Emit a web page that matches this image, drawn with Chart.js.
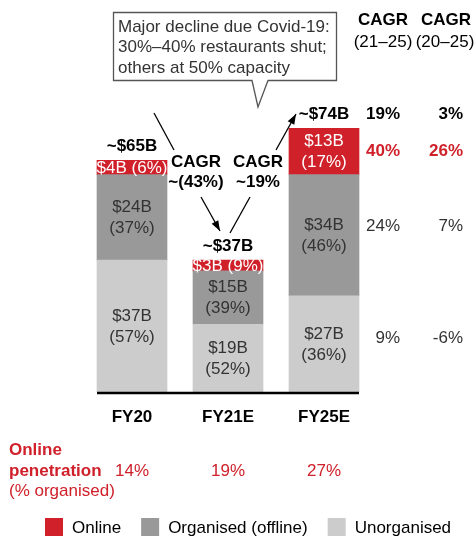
<!DOCTYPE html>
<html>
<head>
<meta charset="utf-8">
<script src="https://cdn.jsdelivr.net/npm/chart.js@4"></script>
<style>
  body { margin: 0; background: #fff; }
  canvas { display: block; }
</style>
</head>
<body>
<canvas id="chart" width="475" height="536"></canvas>
<script>
const years = ["FY20", "FY21E", "FY25E"];
const unorganised = [37, 19, 27];
const organised = [24, 15, 34];
const online = [4, 3, 13];
const pctUnorganised = [57, 52, 36];
const pctOrganised = [37, 39, 46];
const pctOnline = [6, 9, 17];
const totals = ["~$65B", "~$37B", "~$74B"];
const penetration = ["14%", "19%", "27%"];
const cagr2125 = ["19%", "40%", "24%", "9%"];
const cagr2025 = ["3%", "26%", "7%", "-6%"];
const midCagr = ["~(43%)", "~19%"];
const note = ["Major decline due Covid-19:", "30%\u201340% restaurants shut;", "others at 50% capacity"];

const RED = "#d0202a", GREY = "#999999", LIGHT = "#cccccc", DARK = "#333333";
const FONT = '"Liberation Sans", Arial, sans-serif';
const SIZE = "17px ";

function arrow(ctx, x1, y1, x2, y2, head) {
    ctx.beginPath();
    ctx.moveTo(x1, y1);
    ctx.lineTo(x2, y2);
    ctx.stroke();
    if (head) {
        const a = Math.atan2(y2 - y1, x2 - x1);
        ctx.beginPath();
        ctx.moveTo(x2, y2);
        ctx.lineTo(x2 - 11 * Math.cos(a - 0.35), y2 - 11 * Math.sin(a - 0.35));
        ctx.lineTo(x2 - 11 * Math.cos(a + 0.35), y2 - 11 * Math.sin(a + 0.35));
        ctx.closePath();
        ctx.fill();
    }
}

const annotations = {
    id: "annotations",
    afterDraw(chart) {
        const ctx = chart.ctx;
        const y = chart.scales.y;
        const bars = [0, 1, 2].map(i => chart.getDatasetMeta(i).data);
        const pcts = [pctUnorganised, pctOrganised, pctOnline];
        ctx.save();
        ctx.textAlign = "center";
        ctx.textBaseline = "middle";

        // segment labels
        chart.data.datasets.forEach((ds, d) => {
            bars[d].forEach((bar, j) => {
                const mid = (bar.y + bar.base) / 2;
                const val = "$" + ds.data[j] + "B";
                const pct = "(" + pcts[d][j] + "%)";
                ctx.font = SIZE + FONT;
                ctx.fillStyle = d === 2 ? "#ffffff" : DARK;
                if (bar.base - bar.y < 30) {
                    ctx.fillText(val + " " + pct, bar.x, mid + 1);
                } else {
                    ctx.fillText(val, bar.x, mid - 10);
                    ctx.fillText(pct, bar.x, mid + 11);
                }
            });
        });

        // axis line
        const first = bars[0][0], last = bars[0][2];
        ctx.strokeStyle = "#000";
        ctx.lineWidth = 2.5;
        ctx.beginPath();
        ctx.moveTo(first.x - first.width / 2, y.getPixelForValue(0) + 1);
        ctx.lineTo(last.x + last.width / 2, y.getPixelForValue(0) + 1);
        ctx.stroke();

        // totals and categories
        ctx.fillStyle = "#000";
        ctx.font = "bold " + SIZE + FONT;
        const tops = bars[2].map(b => b.y);
        bars[2].forEach((b, j) => {
            ctx.fillText(totals[j], b.x, tops[j] - 14);
            ctx.fillText(years[j], b.x, 417);
        });

        // mid CAGR labels
        const cx = [(bars[0][0].x + bars[0][1].x) / 2 + 16, (bars[0][1].x + bars[0][2].x) / 2 - 18];
        cx.forEach((x, k) => {
            ctx.fillText("CAGR", x, 162);
            ctx.fillText(midCagr[k], x, 182);
        });

        // arrows
        ctx.lineWidth = 1.3;
        ctx.strokeStyle = "#000";
        ctx.fillStyle = "#000";
        arrow(ctx, 154, 113, 174, 150, false);
        arrow(ctx, 201, 197, 220, 231, true);
        arrow(ctx, 250, 197, 230, 233, false);
        arrow(ctx, 276, 150, 296, 114, true);

        // right CAGR columns
        const c1 = 400, c2 = 463;
        ctx.font = "bold " + SIZE + FONT;
        ctx.fillText("CAGR", 383, 20);
        ctx.fillText("CAGR", 446, 20);
        ctx.font = SIZE + FONT;
        ctx.fillText("(21\u201325)", 383, 42);
        ctx.fillText("(20\u201325)", 445, 42);
        const b25 = bars.map(m => m[2]);
        const rowY = [
            tops[2] - 14,
            (b25[2].y + b25[2].base) / 2,
            (b25[1].y + b25[1].base) / 2 - 9,
            (b25[0].y + b25[0].base) / 2 - 6
        ];
        ctx.textAlign = "right";
        rowY.forEach((ry, r) => {
            ctx.font = (r < 2 ? "bold " : "") + SIZE + FONT;
            ctx.fillStyle = r === 0 ? "#000" : r === 1 ? RED : DARK;
            ctx.fillText(cagr2125[r], c1, ry);
            ctx.fillText(cagr2025[r], c2, ry);
        });

        // callout box
        ctx.strokeStyle = "#555";
        ctx.lineWidth = 1.3;
        ctx.fillStyle = "#fff";
        ctx.beginPath();
        ctx.moveTo(113.5, 12.5);
        ctx.lineTo(336.5, 12.5);
        ctx.lineTo(336.5, 80.5);
        ctx.lineTo(268, 80.5);
        ctx.lineTo(258, 107);
        ctx.lineTo(252, 80.5);
        ctx.lineTo(113.5, 80.5);
        ctx.closePath();
        ctx.fill();
        ctx.stroke();
        ctx.textAlign = "left";
        ctx.fillStyle = DARK;
        ctx.font = SIZE + FONT;
        note.forEach((t, i) => ctx.fillText(t, 118, 27 + i * 20.5));

        // online penetration row
        ctx.fillStyle = RED;
        ctx.font = "bold " + SIZE + FONT;
        ctx.fillText("Online", 9, 450);
        ctx.fillText("penetration", 9, 471);
        ctx.font = SIZE + FONT;
        ctx.fillText("(% organised)", 9, 491);
        ctx.textAlign = "center";
        bars[0].forEach((b, j) => ctx.fillText(penetration[j], b.x, 471));

        // legend
        let lx = 45;
        ctx.textAlign = "left";
        [2, 1, 0].forEach(d => {
            const ds = chart.data.datasets[d];
            ctx.fillStyle = ds.backgroundColor;
            ctx.fillRect(lx, 518, 18, 18);
            ctx.fillStyle = "#000";
            ctx.fillText(ds.label, lx + 27, 528);
            lx += 27 + ctx.measureText(ds.label).width + 20;
        });
        ctx.restore();
    }
};

new Chart(document.getElementById("chart"), {
    type: "bar",
    data: {
        labels: years,
        datasets: [
            { label: "Unorganised", data: unorganised, backgroundColor: LIGHT },
            { label: "Organised (offline)", data: organised, backgroundColor: GREY },
            { label: "Online", data: online, backgroundColor: RED }
        ]
    },
    options: {
        responsive: false,
        animation: false,
        devicePixelRatio: 1,
        layout: { padding: { left: 84, right: 103, top: 0, bottom: 144 } },
        datasets: { bar: { barThickness: 70 } },
        scales: {
            x: { stacked: true, display: false },
            y: { stacked: true, display: false, min: 0, max: 110 }
        },
        plugins: { legend: { display: false }, tooltip: { enabled: false } }
    },
    plugins: [annotations]
});
</script>
</body>
</html>
